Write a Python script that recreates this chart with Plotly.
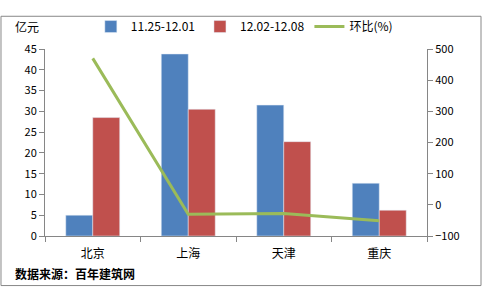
import plotly.graph_objects as go

cities = ["北京", "上海", "天津", "重庆"]
week1 = [5.0, 43.8, 31.5, 12.7]
week2 = [28.5, 30.5, 22.7, 6.2]
ratio = [470, -30, -28, -51]
name1 = "11.25-12.01"
name2 = "12.02-12.08"
name3 = "环比(%)"

FONT = "Noto Sans CJK SC, Arial, sans-serif"

fig = go.Figure()
fig.add_trace(go.Bar(x=cities, y=week1, name=name1, marker_color="#4F81BD"))
fig.add_trace(go.Bar(x=cities, y=week2, name=name2, marker_color="#C0504D"))
fig.add_trace(go.Scatter(x=cities, y=ratio, name=name3, yaxis="y2", mode="lines",
                         line=dict(color="#9BBB59", width=3)))

fig.update_layout(
    width=483, height=291,
    margin=dict(l=45, r=56, t=36, b=55),
    paper_bgcolor="white", plot_bgcolor="white",
    barmode="group", bargap=0.435, bargroupgap=0,
    font=dict(family=FONT, size=11, color="#000"),
    showlegend=True,
    legend=dict(orientation="h", x=0.12, y=1.12, xanchor="left", yanchor="middle",
                font=dict(size=12), bgcolor="rgba(0,0,0,0)", traceorder="normal",
                itemwidth=30),
    xaxis=dict(showline=True, linecolor="#868686", ticks="outside", tickson="boundaries",
               ticklen=5, tickcolor="#868686", tickfont=dict(size=12), showgrid=False,
               ticklabelstandoff=7),
    yaxis=dict(range=[0, 45], dtick=5, showline=True, linecolor="#868686", ticks="outside",
               ticklen=5, tickcolor="#868686", showgrid=False, zeroline=False),
    yaxis2=dict(range=[-100, 500], dtick=100, overlaying="y", side="right", showline=True,
                linecolor="#868686", ticks="outside", ticklen=5, tickcolor="#868686",
                showgrid=False, zeroline=False),
    shapes=[dict(type="rect", xref="paper", yref="paper",
                 x0=-0.1152, x1=1.1414, y0=-0.265, y1=1.175,
                 line=dict(color="#888888", width=1), layer="below")],
    annotations=[
        dict(text="亿元", xref="paper", yref="paper", x=-0.0838, y=1.12,
             xanchor="left", yanchor="middle", showarrow=False, font=dict(size=12)),
        dict(text="<b>数据来源：百年建筑网</b>", xref="paper", yref="paper", x=-0.0838, y=-0.2,
             xanchor="left", yanchor="middle", showarrow=False, font=dict(size=12)),
    ],
)

fig.write_html("out.html")
